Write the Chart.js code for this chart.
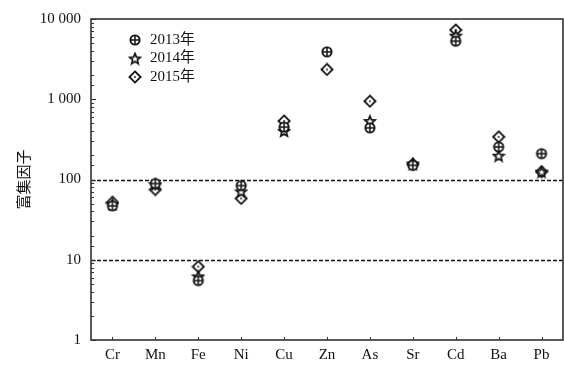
<!DOCTYPE html>
<html>
<head>
<meta charset="utf-8">
<script src="https://cdn.jsdelivr.net/npm/chart.js@4.4.0/dist/chart.umd.min.js"></script>
<style>
  html, body { margin: 0; padding: 0; background: #fff; }
  #wrap { width: 564px; height: 365px; }
</style>
</head>
<body>
<div id="wrap"><canvas id="c"></canvas></div>
<script>
// ===== Data =====
const elements = ['Cr', 'Mn', 'Fe', 'Ni', 'Cu', 'Zn', 'As', 'Sr', 'Cd', 'Ba', 'Pb'];
const years = ['2013年', '2014年', '2015年'];
const ef2013 = [47, 89, 5.5, 84, 450, 3900, 440, 150, 5300, 255, 210];
const ef2014 = [49, 87, 6.2, 71, 403, null, 535, 158, 6200, 198, 125];
const ef2015 = [52, 75, 8.2, 58, 535, 2350, 945, 155, 7300, 340, 125];
const refLines = [10, 100];

const serif = "'Liberation Serif', 'Times New Roman', 'Noto Sans CJK SC', serif";
const ink = '#111';

// ===== Marker images =====
function makeMarker(kind) {
  const s = 14;
  const cv = document.createElement('canvas');
  cv.width = s; cv.height = s;
  const g = cv.getContext('2d');
  const c = s / 2;
  g.strokeStyle = ink;
  g.fillStyle = ink;
  g.lineWidth = 1.9;
  if (kind === 'circleCross') {
    g.beginPath(); g.arc(c, c, 4.6, 0, Math.PI * 2);
    g.fillStyle = '#fff'; g.fill(); g.stroke();
    g.lineWidth = 1.5;
    g.beginPath();
    g.moveTo(c - 4.6, c); g.lineTo(c + 4.6, c);
    g.moveTo(c, c - 4.6); g.lineTo(c, c + 4.6);
    g.stroke();
  } else if (kind === 'star') {
    g.lineWidth = 1.7;
    g.beginPath();
    for (let i = 0; i < 10; i++) {
      const r = i % 2 === 0 ? 5.6 : 2.5;
      const a = -Math.PI / 2 + i * Math.PI / 5;
      const x = c + r * Math.cos(a), y = c + 0.6 + r * Math.sin(a);
      i === 0 ? g.moveTo(x, y) : g.lineTo(x, y);
    }
    g.closePath();
    g.fillStyle = '#fff'; g.fill();
    g.stroke();
  } else {
    g.lineWidth = 1.8;
    g.beginPath();
    g.moveTo(c, c - 5.6); g.lineTo(c + 5.6, c); g.lineTo(c, c + 5.6); g.lineTo(c - 5.6, c);
    g.closePath();
    g.fillStyle = '#fff'; g.fill();
    g.stroke();
    g.fillStyle = ink;
    g.beginPath(); g.arc(c, c, 0.9, 0, Math.PI * 2); g.fill();
  }
  return cv;
}
const markers = [makeMarker('circleCross'), makeMarker('star'), makeMarker('diamond')];

// ===== Frame, inward ticks, dashed reference lines, legend =====
const decorPlugin = {
  id: 'decor',
  beforeDatasetsDraw(chart) {
    const { ctx, chartArea: a, scales } = chart;
    const y = scales.y, x = scales.x;
    ctx.save();
    // dashed reference lines
    ctx.strokeStyle = ink;
    ctx.lineWidth = 1.3;
    ctx.setLineDash([4, 2]);
    refLines.forEach(v => {
      const py = Math.round(y.getPixelForValue(v)) + 0.5;
      ctx.beginPath(); ctx.moveTo(a.left, py); ctx.lineTo(a.right, py); ctx.stroke();
    });
    ctx.setLineDash([]);
    // inward y ticks
    ctx.lineWidth = 1;
    ctx.strokeStyle = '#333';
    y.ticks.forEach(t => {
      const py = Math.round(y.getPixelForValue(t.value)) + 0.5;
      const major = Math.abs(Math.log10(t.value) % 1) < 1e-9;
      const len = major ? 5 : 3;
      ctx.beginPath(); ctx.moveTo(a.left, py); ctx.lineTo(a.left + len, py); ctx.stroke();
    });
    // inward x ticks
    elements.forEach((el, i) => {
      const px = Math.round(x.getPixelForValue(i)) + 0.5;
      ctx.beginPath(); ctx.moveTo(px, a.bottom); ctx.lineTo(px, a.bottom - 3); ctx.stroke();
    });
    // frame
    ctx.lineWidth = 1.6;
    ctx.strokeStyle = '#333';
    ctx.strokeRect(a.left, a.top, a.right - a.left, a.bottom - a.top);
    ctx.restore();
  },
  afterDraw(chart) {
    const { ctx, chartArea: a } = chart;
    ctx.save();
    ctx.font = '15px ' + serif;
    ctx.fillStyle = ink;
    ctx.textBaseline = 'middle';
    years.forEach((yr, i) => {
      const cy = a.top + 21 + i * 18.5;
      const mx = a.left + 44;
      ctx.drawImage(markers[i], mx - 7, cy - 7);
      ctx.fillText(yr, mx + 15, cy);
    });
    ctx.restore();
  }
};

const seriesValues = [ef2013, ef2014, ef2015];

new Chart(document.getElementById('c'), {
  type: 'line',
  data: {
    labels: elements,
    datasets: years.map((yr, i) => ({
      label: yr,
      data: seriesValues[i],
      showLine: false,
      pointStyle: markers[i],
      pointRadius: 6,
      pointHoverRadius: 6
    }))
  },
  options: {
    responsive: true,
    maintainAspectRatio: false,
    animation: false,
    layout: { autoPadding: false, padding: { top: 16, right: 1, left: 0, bottom: 0 } },
    plugins: {
      legend: { display: false },
      tooltip: { enabled: false }
    },
    scales: {
      x: {
        type: 'category',
        offset: true,
        grid: { display: false, drawTicks: false },
        border: { display: false },
        ticks: {
          color: ink,
          font: { family: serif, size: 15 },
          padding: 6,
          maxRotation: 0,
          autoSkip: false
        },
        afterFit(scale) {
          scale.height = 25;
          scale.paddingLeft = 0;
          scale.paddingRight = 0;
        }
      },
      y: {
        type: 'logarithmic',
        min: 1,
        max: 10000,
        grid: { display: false, drawTicks: false },
        border: { display: false },
        title: {
          display: true,
          text: '富集因子',
          color: ink,
          font: { family: "'Noto Sans CJK SC', serif", size: 15 },
          padding: { top: 14, bottom: 0 }
        },
        ticks: {
          color: ink,
          autoSkip: false,
          padding: 10,
          font: { family: serif, size: 15 },
          callback(value) {
            const l = Math.log10(value);
            if (Math.abs(l - Math.round(l)) > 1e-9) return '';
            return String(value).replace(/\B(?=(\d{3})+(?!\d))/g, ' ');
          }
        },
        afterFit(scale) { scale.width = 91; }
      }
    }
  },
  plugins: [decorPlugin]
});
</script>
</body>
</html>
